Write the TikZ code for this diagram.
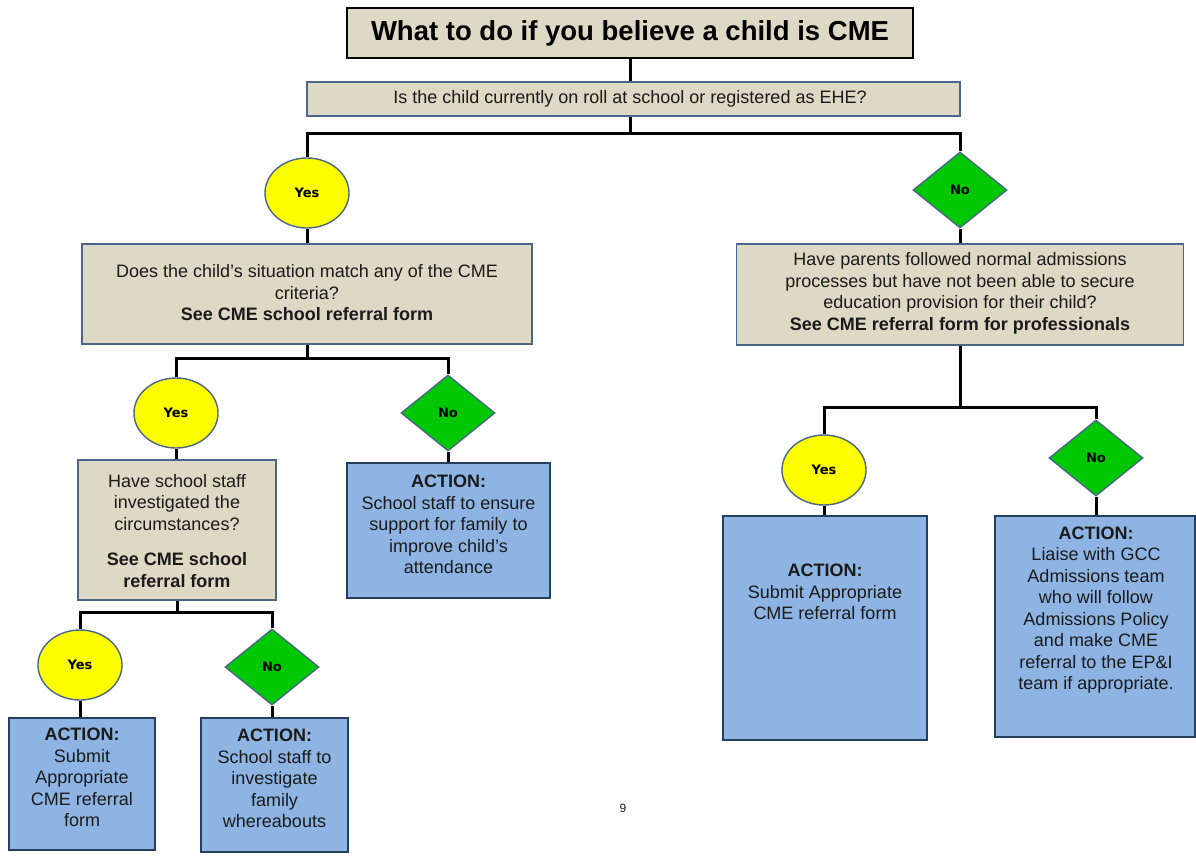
\documentclass[tikz,border=0pt]{standalone}
\usepackage{fontspec}
\setmainfont{Liberation Sans}
\newfontfamily\yesfont{DejaVu Sans}
\usetikzlibrary{shapes.geometric}
\definecolor{beige}{HTML}{DDD9C4}
\definecolor{bgborder}{HTML}{4A6688}
\definecolor{bluefill}{HTML}{8EB4E3}
\definecolor{blueborder}{HTML}{243F60}
\definecolor{yesyellow}{HTML}{FFFF00}
\definecolor{nogreen}{HTML}{00C800}
\definecolor{txtcol}{HTML}{1A1A1A}
\tikzset{
  qbox/.style={rectangle, draw=bgborder, fill=beige, line width=1.6pt, inner sep=0pt},
  abox/.style={rectangle, draw=blueborder, fill=bluefill, line width=1.6pt, inner sep=0pt},
  yesnode/.style={ellipse, draw=bgborder, fill=yesyellow, line width=1.4pt, inner sep=0pt,
     minimum width=84pt, minimum height=70pt, font=\yesfont\bfseries\fontsize{13}{15}\selectfont},
  nonode/.style={diamond, draw=bgborder, fill=nogreen, line width=1.4pt, inner sep=0pt,
     minimum width=94pt, minimum height=76pt, font=\yesfont\bfseries\fontsize{13}{15}\selectfont},
  txt/.style={align=center, text=txtcol, inner sep=0pt, font=\fontsize{18}{21.5}\selectfont},
  conn/.style={draw=black, line width=3pt}
}
\begin{document}
\begin{tikzpicture}[x=1pt,y=-1pt]
\useasboundingbox (0,0) rectangle (1196,855);

% title
\node[rectangle, draw=black, fill=beige, line width=2.2pt, minimum width=566pt, minimum height=50pt, inner sep=0pt,
      font=\bfseries\fontsize{27.5}{30}\selectfont, text=black] (b1) at (630,33) {What to do if you believe a child is CME};
\node[qbox, minimum width=653pt, minimum height=34pt] (b2) at (633.5,99) {};
\node[txt] (t2) at (630,99) {Is the child currently on roll at school or registered as EHE?};

\node[yesnode] (y1) at (307,193) {Yes};
\node[nonode] (n1) at (960,190) {No};

\node[qbox, minimum width=450pt, minimum height=100pt] (b3) at (307,294) {};
\node[txt] (t3) at (307,293) {Does the child's situation match any of the CME\\criteria?\\\textbf{See CME school referral form}};

\node[qbox, minimum width=447pt, minimum height=101pt] (b4) at (960,294.5) {};
\node[txt] (t4) at (960,293.5) {Have parents followed normal admissions\\processes but have not been able to secure\\education provision for their child?\\\textbf{See CME referral form for professionals}};

\node[yesnode] (y2) at (176,413) {Yes};
\node[nonode] (n2) at (448,413) {No};

\node[qbox, minimum width=198pt, minimum height=140pt] (b5) at (177,530) {};
\node[txt] (t5) at (177,531) {Have school staff\\investigated the\\circumstances?\\[14pt]\textbf{See CME school}\\\textbf{referral form}};

\node[abox, minimum width=203pt, minimum height=135pt] (b6) at (448.5,530.5) {};
\node[txt] (t6) at (448.5,524.5) {\textbf{ACTION:}\\School staff to ensure\\support for family to\\improve child's\\attendance};

\node[yesnode] (y3) at (80,665) {Yes};
\node[nonode] (n3) at (272,667) {No};

\node[abox, minimum width=146pt, minimum height=132pt] (b7) at (82,784) {};
\node[txt] (t7) at (82,777.5) {\textbf{ACTION:}\\Submit\\Appropriate\\CME referral\\form};

\node[abox, minimum width=147pt, minimum height=134pt] (b8) at (274.5,785) {};
\node[txt] (t8) at (274.5,778.5) {\textbf{ACTION:}\\School staff to\\investigate\\family\\whereabouts};

\node[yesnode] (y4) at (824,470) {Yes};
\node[nonode] (n4) at (1096,458) {No};

\node[abox, minimum width=204pt, minimum height=224pt] (b9) at (825,628) {};
\node[txt] (t9) at (825,592) {\textbf{ACTION:}\\Submit Appropriate\\CME referral form};

\node[abox, minimum width=200pt, minimum height=221pt] (b10) at (1095,626.5) {};
\node[txt] (t10) at (1096,610) {\textbf{ACTION:}\\Liaise with GCC\\Admissions team\\who will follow\\Admissions Policy\\and make CME\\referral to the EP\&I\\team if appropriate.};

\node[txt, font=\fontsize{12}{14}\selectfont] (pg) at (623,808) {9};

% connectors
\draw[conn] (b1.south -| b2.north) ++(-3.5,0) coordinate (c1) -- (c1 |- b2.north);
\draw[conn] (c1 |- b2.south) -- ++(0,17) coordinate (j1);
\draw[conn] (j1) -| (y1.north);
\draw[conn] (j1) -| (n1.north);
\draw[conn] (y1.south) -- (y1.south |- b3.north);
\draw[conn] (n1.south) -- (n1.south |- b4.north);

\draw[conn] (b3.south) -- ++(0,14) coordinate (j2);
\draw[conn] (j2) -| (y2.north);
\draw[conn] (j2) -| (n2.north);
\draw[conn] (y2.south) -- (y2.south |- b5.north);
\draw[conn] (n2.south) -- (n2.south |- b6.north);

\draw[conn] (b5.south) -- ++(0,12) coordinate (j3);
\draw[conn] (j3) -| (y3.north);
\draw[conn] (j3) -| (n3.north);
\draw[conn] (y3.south) -- (y3.south |- b7.north);
\draw[conn] (n3.south) -- (n3.south |- b8.north);

\draw[conn] (b4.south) -- ++(0,62) coordinate (j4);
\draw[conn] (j4) -| (y4.north);
\draw[conn] (j4) -| (n4.north);
\draw[conn] (y4.south) -- (y4.south |- b9.north);
\draw[conn] (n4.south) -- (n4.south |- b10.north);
\end{tikzpicture}
\end{document}
